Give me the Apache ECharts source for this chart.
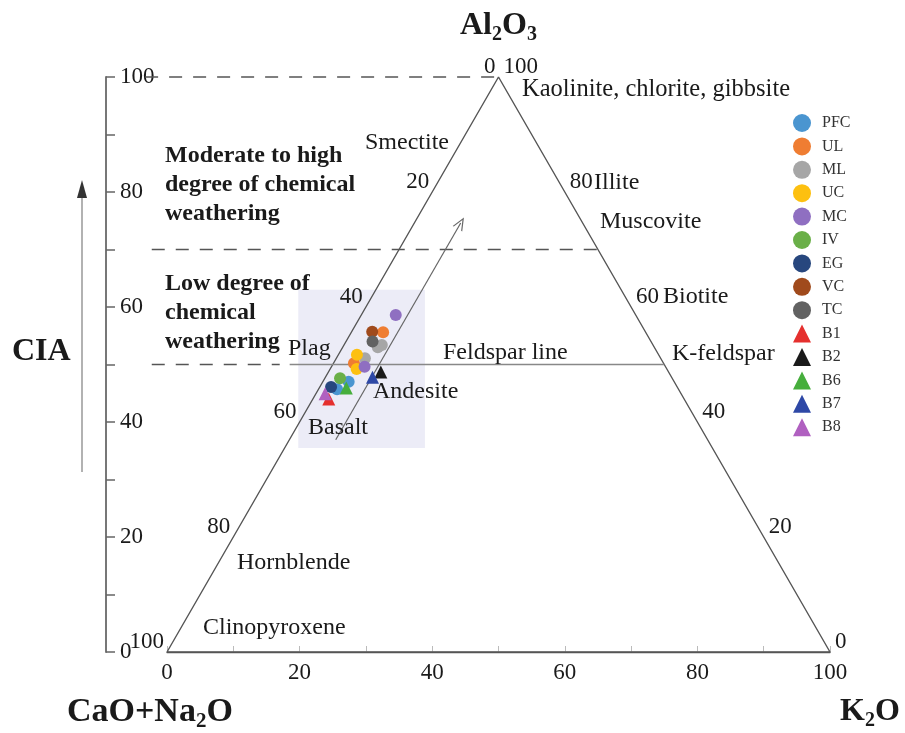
<!DOCTYPE html>
<html><head><meta charset="utf-8">
<script src="https://cdn.jsdelivr.net/npm/echarts@6/dist/echarts.min.js"></script>
<style>html,body{margin:0;padding:0;background:#fff}#c{width:905px;height:733px}</style>
</head><body><div id="c"></div>
<script>
// ---- data: each sample is [Al2O3, CaO+Na2O, K2O] (molar %) ----
const groups = ['PFC','UL','ML','UC','MC','IV','EG','VC','TC','B1','B2','B6','B7','B8'];
const PFC = [[47.0,49.1,3.9],[45.7,51.5,2.8]];
const UL  = [[55.6,39.6,4.8],[50.2,46.7,3.1]];
const ML  = [[53.4,40.9,5.7],[53.0,41.7,5.3],[51.1,44.6,4.3]];
const UC  = [[51.7,45.5,2.8],[49.2,46.8,4.0]];
const MC  = [[58.6,36.2,5.2],[49.6,45.4,5.0]];
const IV  = [[47.6,50.1,2.3]];
const EG  = [[46.1,52.2,1.7]];
const VC  = [[55.7,41.2,3.1]];
const TC  = [[54.0,42.0,4.0]];
const B1  = [[44.0,53.6,2.4]];
const B2  = [[48.7,43.4,7.9]];
const B6  = [[45.9,50.0,4.1]];
const B7  = [[47.8,45.1,7.1]];
const B8  = [[44.9,53.7,1.4]];
const samples = {PFC,UL,ML,UC,MC,IV,EG,VC,TC,B1,B2,B6,B7,B8};

const axisTicks = [0,20,40,60,80,100];          // CIA and bottom axis labels
const leftEdgeTicks = [0,20,40,60,80,100];      // CaO+Na2O along A–CN edge
const rightEdgeTicks = [100,80,60,40,20,0];     // Al2O3 along A–K edge
const ciaThresholds = [50,70,100];

// ---- styles ----
const FONT = '"Liberation Serif","Times New Roman",serif';
const colors = {PFC:'#4a95d0',UL:'#ef7d32',ML:'#a6a6a6',UC:'#fdc010',MC:'#8f6fc1',IV:'#6aaf48',
  EG:'#27477e',VC:'#a04a1c',TC:'#626262',B1:'#e5302e',B2:'#1a1a1a',B6:'#46ae3c',B7:'#2e48a6',B8:'#b060c0'};
// x-extent of each dashed CIA threshold line (in bottom-axis units)
const dashSpan = {100:[-3.3,50], 70:[-2.3,65], 50:[-2.3,17]};

function tern(p){ const s=p[0]+p[1]+p[2]; const a=p[0]/s*100, k=p[2]/s*100; return [k + a/2, a]; }

const chart = echarts.init(document.getElementById('c'), null, {renderer:'canvas'});

const series = [];
series.push({type:'line', silent:true, clip:false, symbol:'none', z:2,
  data:[[0,100,0],[100,0,0],[0,0,100],[0,100,0]].map(tern),
  lineStyle:{color:'#555',width:1.4},
  markArea:{silent:true, itemStyle:{color:'#ececf7'}, data:[[{coord:[19.8,63]},{coord:[38.9,35.5]}]]},
  markLine:{silent:true, symbol:['none','path://M0,12 L6,0 L12,12 L10.6,12 L6,2.8 L1.4,12 Z'], symbolSize:[11,13],
    label:{show:false}, lineStyle:{color:'#666',width:1.2,type:'solid'},
    data:[[{coord:tern([36.9,56.1,7.0])},{coord:tern([74.6,18.4,7.0])}]]}
});
series.push({type:'line', silent:true, clip:false, symbol:'none', z:2,
  data:[[18.5,50], tern([50,0,50])], lineStyle:{color:'#888',width:1.4}});

const tickLabel = {show:true, verticalAlign:'middle', fontFamily:FONT, fontSize:23, color:'#1a1a1a', opacity:1, textBorderWidth:0};
series.push({type:'scatter', silent:true, symbolSize:0.1, z:5,
  data: leftEdgeTicks.map(v=>({value:tern([100-v,v,0]), t:v})),
  label:Object.assign({position:[-3,-10], align:'right', formatter:p=>p.data.t}, tickLabel)});
series.push({type:'scatter', silent:true, symbolSize:0.1, z:5,
  data: rightEdgeTicks.map(v=>({value:tern([v,0,100-v]), t:v})),
  label:Object.assign({position:[5,-10], align:'left', formatter:p=>p.data.t}, tickLabel)});

groups.forEach(g=>{
  const tri = g[0]==='B';
  series.push({name:g, type:'scatter', data:samples[g].map(tern), z: tri?6:5,
    symbol: tri?'triangle':'circle', symbolSize: tri?13:12,
    itemStyle:{color:colors[g], opacity:1}});
});

function t(x,y,text,size,bold,extra){ return {type:'text',silent:true,z:10,
  style:Object.assign({x:x,y:y,text:text,fill:'#1a1a1a',fontFamily:FONT,fontSize:size,fontWeight:bold?'bold':'normal',verticalAlign:'middle',align:'left'},extra||{})}; }
function sub(x,y,text,size){ return {type:'text',silent:true,z:10,style:{x:x,y:y,verticalAlign:'middle',text:text,
    rich:{b:{fontFamily:FONT,fontSize:size,fontWeight:'bold',fill:'#1a1a1a'},s:{fontFamily:FONT,fontSize:Math.round(size*0.62),fontWeight:'bold',fill:'#1a1a1a',padding:[Math.round(size*0.56),0,0,0]}}}}; }

const graphic = [
  t(522,90,'Kaolinite, chlorite, gibbsite',24.5),
  t(365,143,'Smectite',24),
  t(594,183,'Illite',24),
  t(600,222,'Muscovite',24),
  t(663,297,'Biotite',24),
  t(672,354,'K-feldspar',24),
  t(443,353,'Feldspar line',24),
  t(288,349,'Plag',24),
  t(373,392,'Andesite',24),
  t(308,428,'Basalt',24),
  t(237,563,'Hornblende',24),
  t(203,628,'Clinopyroxene',24),
  t(165,141,'Moderate to high\ndegree of chemical\nweathering',24,true,{verticalAlign:'top',lineHeight:29}),
  t(165,269,'Low degree of\nchemical\nweathering',24,true,{verticalAlign:'top',lineHeight:29}),
  t(12,352,'CIA',32,true),
  sub(460,26,'{b|Al}{s|2}{b|O}{s|3}',32),
  sub(67,712,'{b|CaO+Na}{s|2}{b|O}',34),
  sub(840,712,'{b|K}{s|2}{b|O}',32),
  {type:'line',silent:true,z:10,shape:{x1:82,y1:472,x2:82,y2:196},style:{stroke:'#999',lineWidth:1.5}},
  {type:'polygon',silent:true,z:10,shape:{points:[[77,198],[87,198],[82,180]]},style:{fill:'#333'}}
];

chart.setOption({
  animation:false,
  backgroundColor:'#fff',
  grid:[{left:167,right:75,top:77,bottom:81,containLabel:false},
        {left:106,width:1,top:77,bottom:81,containLabel:false}],
  xAxis:[{type:'value',min:0,max:100,interval:10,gridIndex:0,
    axisLine:{lineStyle:{color:'#555',width:1.4}},
    axisTick:{inside:true,length:6,lineStyle:{color:'#bbb'}},
    axisLabel:{margin:9,fontFamily:FONT,fontSize:23,color:'#1a1a1a',formatter:v=>axisTicks.includes(v)?String(v):''},
    splitLine:{show:false}},
    {type:'value',min:0,max:1,gridIndex:1,show:false}],
  yAxis:[{type:'value',min:0,max:100,interval:10,gridIndex:0,show:false},
    {type:'value',min:0,max:100,interval:10,gridIndex:1,position:'right',
    axisLine:{show:true,lineStyle:{color:'#777',width:2}},
    axisTick:{show:true,length:9,lineStyle:{color:'#666',width:1.5}},
    axisLabel:{margin:13,fontFamily:FONT,fontSize:23,color:'#1a1a1a',formatter:v=>axisTicks.includes(v)?String(v):''},
    splitLine:{show:false}}],
  legend:{orient:'vertical',left:793,top:114,padding:0,itemWidth:18,itemHeight:18,itemGap:5.4,
    data:groups, textStyle:{fontFamily:FONT,fontSize:16,color:'#333',padding:[0,0,0,6]}},
  series:series
});

// dashed CIA threshold lines, placed through the grid's own scales
ciaThresholds.forEach(v=>{
  const p1 = chart.convertToPixel({gridIndex:0},[dashSpan[v][0], v]);
  const p2 = chart.convertToPixel({gridIndex:0},[dashSpan[v][1], v]);
  graphic.push({type:'line',silent:true,z:3,shape:{x1:p1[0],y1:p1[1],x2:p2[0],y2:p2[1]},
    style:{stroke:'#555',lineWidth:1.4,lineDash:[13,11]}});
});
chart.setOption({graphic:graphic});
</script></body></html>
